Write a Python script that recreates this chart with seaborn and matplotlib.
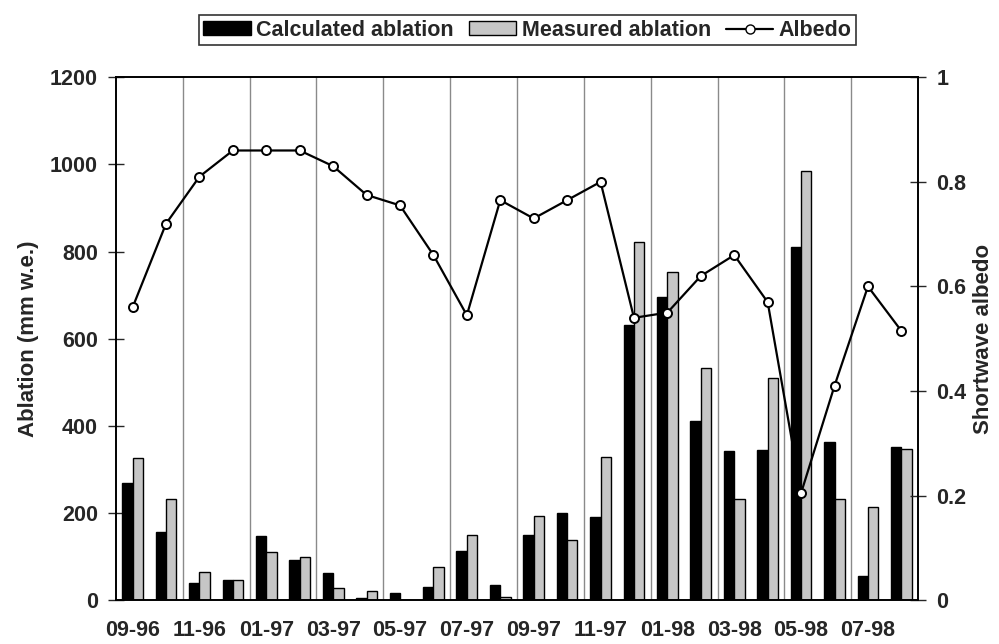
import numpy as np
import pandas as pd
import matplotlib
matplotlib.use("Agg")
import matplotlib.pyplot as plt
from matplotlib.patches import Patch
from matplotlib.lines import Line2D
from matplotlib.ticker import FormatStrFormatter
import seaborn as sns

# monthly values, 09-96 .. 08-98
months = ['09-96', '10-96', '11-96', '12-96', '01-97', '02-97', '03-97', '04-97',
          '05-97', '06-97', '07-97', '08-97', '09-97', '10-97', '11-97', '12-97',
          '01-98', '02-98', '03-98', '04-98', '05-98', '06-98', '07-98', '08-98']
calculated = [269, 157, 40, 47, 147, 93, 63, 6, 17, 31, 113, 34,
              150, 199, 190, 631, 696, 411, 343, 344, 811, 363, 55, 352]
measured = [327, 233, 64, 47, 110, 99, 28, 20, 0, 77, 150, 8,
            193, 138, 329, 822, 753, 534, 233, 509, 985, 233, 214, 348]
albedo = [0.56, 0.72, 0.81, 0.86, 0.86, 0.86, 0.83, 0.775, 0.755, 0.66, 0.545, 0.765,
          0.73, 0.765, 0.80, 0.54, 0.55, 0.62, 0.66, 0.57, 0.205, 0.41, 0.60, 0.515]

sns.set_style("white")
plt.rcParams['font.family'] = ['Liberation Sans', 'DejaVu Sans']
plt.rcParams['font.weight'] = 'bold'
FS = 15.5

df = pd.DataFrame({
    'Month': months * 2,
    'Ablation': calculated + measured,
    'Series': ['Calculated ablation'] * len(months) + ['Measured ablation'] * len(months),
})
colors = {'Calculated ablation': 'black', 'Measured ablation': '#c6c6c6'}

fig = plt.figure(figsize=(9.99, 6.44), dpi=100)
ax = fig.add_axes([0.116, 0.068, 0.803, 0.812])

sns.barplot(data=df, x='Month', y='Ablation', hue='Series', palette=colors,
            width=0.62, edgecolor='black', linewidth=1.0, ax=ax, legend=False)

ax2 = ax.twinx()
sns.lineplot(x=np.arange(len(months)), y=albedo, color='black', linewidth=1.6,
             marker='o', markersize=6.5, markerfacecolor='white',
             markeredgecolor='black', markeredgewidth=1.4, ax=ax2)

ax.set_xlim(-0.5, len(months) - 0.5)
ax.set_ylim(0, 1200)
ax.set_yticks(range(0, 1201, 200))
ax2.set_ylim(0, 1)
ax2.set_yticks(np.arange(0, 1.01, 0.2))
ax2.yaxis.set_major_formatter(FormatStrFormatter('%g'))

# labels on every second month, ticks and grid at two-month boundaries
ax.set_xticks(range(0, len(months), 2))
ax.set_xticklabels(months[::2])
ax.set_xticks(np.arange(-0.5, len(months), 2), minor=True)
ax.tick_params(axis='x', which='major', length=0, pad=14, labelsize=FS)
ax.tick_params(axis='x', which='minor', length=9, width=1, direction='inout', color='black')
for xv in np.arange(1.5, len(months) - 1, 2):
    ax.axvline(xv, color='#8a8a8a', linewidth=1.0, zorder=0)

ax.tick_params(axis='y', length=11, width=1, direction='inout', labelsize=FS, pad=7.5, left=True)
ax2.tick_params(axis='y', length=11, width=1, direction='inout', labelsize=FS, pad=7.5, right=True)

ax.set_xlabel('')
ax.set_ylabel('Ablation (mm w.e.)', fontsize=16, fontweight='bold', labelpad=8)
ax2.set_ylabel('Shortwave albedo', fontsize=16, fontweight='bold', labelpad=5)

for a in (ax, ax2):
    for s in a.spines.values():
        s.set_color('black')
        s.set_linewidth(1.2)

handles = [
    Patch(facecolor='black', edgecolor='black', label='Calculated ablation'),
    Patch(facecolor='#c6c6c6', edgecolor='black', label='Measured ablation'),
    Line2D([0], [0], color='black', linewidth=1.6, marker='o', markersize=6.5,
           markerfacecolor='white', markeredgecolor='black', label='Albedo'),
]
leg = fig.legend(handles=handles, loc='center', bbox_to_anchor=(0.528, 0.953), ncol=3,
                 frameon=True, fancybox=False, edgecolor='black', fontsize=FS,
                 handlelength=2.2, handleheight=0.6, handletextpad=0.25,
                 columnspacing=0.7, borderpad=0.2, borderaxespad=0)
leg.get_frame().set_linewidth(1.2)

fig.savefig('out.png', dpi=100)
